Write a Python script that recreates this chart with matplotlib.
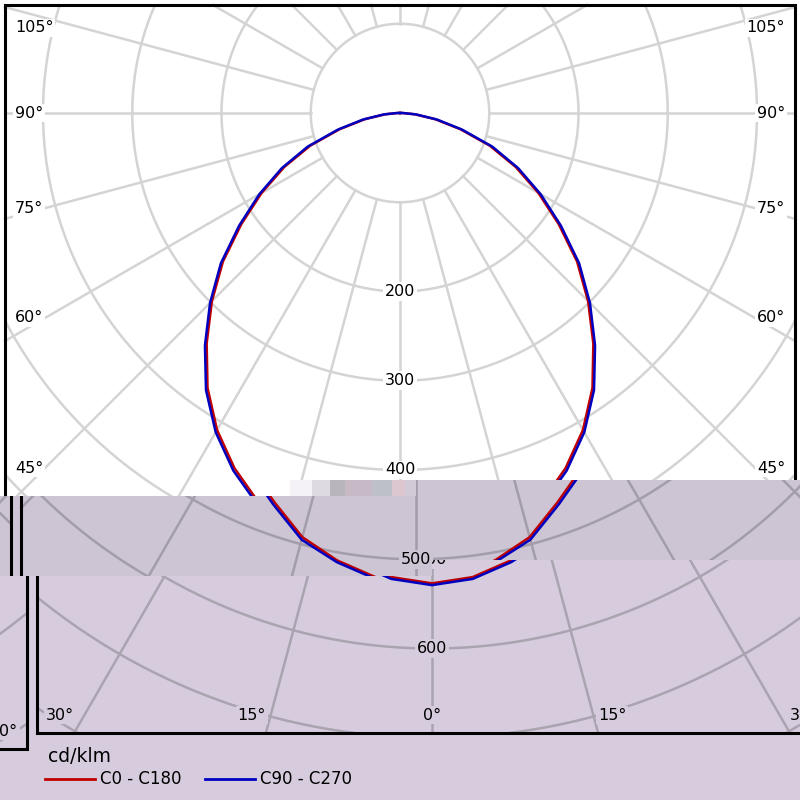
import numpy as np
import matplotlib
matplotlib.use("Agg")
import matplotlib.pyplot as plt
from matplotlib.patches import Rectangle
from matplotlib.transforms import Bbox, TransformedBbox

# photometric data, cd/klm, gamma angle in degrees
gamma = np.arange(0, 181, 5)
c0_c180 = [527, 522, 509, 492, 464, 439, 410, 376, 337, 298, 259, 217, 179, 143, 107, 70, 40, 17, 3] + [0] * 18
c90_c270 = [529, 524, 511, 495, 467, 442, 413, 379, 340, 301, 262, 220, 182, 146, 110, 72, 42, 18, 3] + [0] * 18
series_names = ["C0 - C180", "C90 - C270"]
series_colors = ["#c00000", "#0000c0"]
units = "cd/klm"

rings = [100, 200, 300, 400, 500, 600, 700, 800, 900]
ring_labels = [200, 300, 400, 500, 600]
spokes = np.arange(0, 360, 15)
side_labels = [45, 60, 75, 90, 105]
bottom_labels = [0, 15, 30]

# layout in pixels (y down)
CX, CY, S = 400, 113, 0.8925
FL, FT, FR, FB = 5, 5, 795, 733
W = 800

plt.rcParams['font.family'] = ['DejaVu Sans']
fig = plt.figure(figsize=(8, 8), dpi=100)
ax = fig.add_axes([0, 0, 1, 1])
ax.set_xlim(0, W)
ax.set_ylim(800, 0)
ax.axis('off')


def polar(g, v, side=1):
    g = np.radians(g)
    v = np.asarray(v, dtype=float)
    return CX + side * v * S * np.sin(g), CY + v * S * np.cos(g)


def draw_chart(ox, oy, clip, bg, grid):
    arts = []
    # rings
    t = np.linspace(0, 2 * np.pi, 1440)
    for v in rings:
        x = CX + v * S * np.sin(t)
        y = CY + v * S * np.cos(t)
        out = (x < FL) | (x > FR) | (y < FT) | (y > FB)
        x[out] = np.nan
        y[out] = np.nan
        arts += ax.plot(x + ox, y + oy, color=grid, lw=1.8, zorder=1)
    # spokes
    for a in spokes:
        dx, dy = np.sin(np.radians(a)), np.cos(np.radians(a))
        ts = []
        if dx > 1e-9: ts.append((FR - CX) / dx)
        if dx < -1e-9: ts.append((FL - CX) / dx)
        if dy > 1e-9: ts.append((FB - CY) / dy)
        if dy < -1e-9: ts.append((FT - CY) / dy)
        r0, r1 = rings[0] * S, min(ts)
        arts += ax.plot([CX + r0 * dx + ox, CX + r1 * dx + ox],
                        [CY + r0 * dy + oy, CY + r1 * dy + oy], color=grid, lw=1.8, zorder=1)
    box = dict(boxstyle='square,pad=0.12', fc=bg, ec='none')
    # ring labels
    for v in ring_labels:
        arts.append(ax.text(CX + ox, CY + v * S + oy, str(v), ha='center', va='center',
                            fontsize=11.5, bbox=box, zorder=2))
    # angle labels on the sides
    for a in side_labels:
        r = np.radians(a)
        y = max(CY + 355 * np.cos(r) / np.sin(r), 28)
        arts.append(ax.text(FL + 10 + ox, y + oy, f"{a}°", ha='left', va='center',
                            fontsize=11.5, bbox=box, zorder=2))
        arts.append(ax.text(FR - 10 + ox, y + oy, f"{a}°", ha='right', va='center',
                            fontsize=11.5, bbox=box, zorder=2))
    # angle labels at the bottom
    for a in bottom_labels:
        d = (FB - CY) * np.tan(np.radians(a))
        if a == 0:
            arts.append(ax.text(CX + ox, 715 + oy, "0°", ha='center', va='center',
                                fontsize=11.5, bbox=box, zorder=2))
        else:
            arts.append(ax.text(CX + d + ox, 715 + oy, f"{a}°", ha='left', va='center',
                                fontsize=11.5, bbox=box, zorder=2))
            arts.append(ax.text(CX - d + ox, 715 + oy, f"{a}°", ha='right', va='center',
                                fontsize=11.5, bbox=box, zorder=2))
    # curves: left half C180 / C270, right half C0 / C90
    for vals, col in zip([c0_c180, c90_c270], series_colors):
        xl, yl = polar(gamma[::-1], vals[::-1], -1)
        xr, yr = polar(gamma, vals, 1)
        x = np.concatenate([xl, xr])
        y = np.concatenate([yl, yr])
        arts += ax.plot(x + ox, y + oy, color=col, lw=1.8, zorder=3)
    # frame
    fr = Rectangle((FL + ox, FT + oy), FR - FL, FB - FT, fill=False, ec='black', lw=2.2, zorder=4)
    ax.add_patch(fr)
    arts.append(fr)
    # legend
    arts.append(ax.text(FL + 11 + ox, 757 + oy, units, ha='left', va='center', fontsize=13.5, zorder=2))
    lx = [FL + 8, FL + 168]
    for name, col, x0 in zip(series_names, series_colors, lx):
        arts += ax.plot([x0 + ox, x0 + 50 + ox], [779 + oy, 779 + oy], color=col, lw=2, zorder=3)
        arts.append(ax.text(x0 + 55 + ox, 779 + oy, name, ha='left', va='center', fontsize=12, zorder=2))
    for a in arts:
        a.set_clip_on(True)
        a.set_clip_box(clip)


# corrupted image bands: rectangles (x0, y0, x1, y1), shift, background, grid colour
band_a = [(0, 0, W, 480), (0, 480, 415, 496)]
band_b = [(415, 480, W, 496), (0, 496, W, 560), (0, 560, 432, 576)]
band_c = [(432, 560, W, 576), (0, 576, W, 800)]
bands = [(band_a, 0, 'white', '#d4d4d4'),
         (band_b, 16, '#cdc4d4', '#a39ca9'),
         (band_c, 32, '#d6ccdd', '#aaa3b0')]

for rects, shift, bg, grid in bands:
    for x0, y0, x1, y1 in rects:
        ax.add_patch(Rectangle((x0, y0), x1 - x0, y1 - y0, fc=bg, ec='none', zorder=0))
        clip = TransformedBbox(Bbox.from_extents(x0, y0, x1, y1), ax.transData)
        draw_chart(shift, 0, clip, bg, grid)
        if shift:
            draw_chart(shift - W, 16, clip, bg, grid)

# garbled blocks at the band seam
noise = [(290, 312, '#f4f2f6'), (312, 330, '#dedae2'), (330, 345, '#b8b6bc'),
         (345, 372, '#c7bac6'), (372, 392, '#bdc1c7'), (392, 405, '#dcc6cf'), (405, 416, '#d2cad6')]
for x0, x1, c in noise:
    ax.add_patch(Rectangle((x0, 480), x1 - x0, 16, fc=c, ec='none', zorder=5))

fig.savefig("out.png", dpi=100)
